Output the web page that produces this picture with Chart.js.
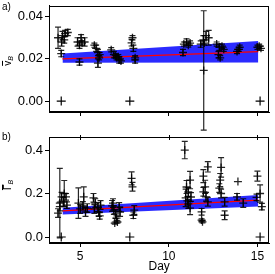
<!DOCTYPE html>
<html>
<head>
<meta charset="utf-8">
<script src="https://cdn.jsdelivr.net/npm/chart.js@4/dist/chart.umd.min.js"></script>
<style>
html, body { margin: 0; padding: 0; background: #fff; }
#wrap { position: relative; width: 275px; height: 274px; }
canvas { position: absolute; left: 0; top: 0; }
</style>
</head>
<body>
<div id="wrap">
  <canvas id="chartA" width="275" height="274"></canvas>
  <canvas id="chartB" width="275" height="274"></canvas>
</div>
<script>
// ticks
const xTicks = [5, 10, 15];
const vTicks = [0, 0.02, 0.04];
const gTicks = [0, 0.2, 0.4];

// panel a) : day, mean value, error
const vDay = [3.75, 4.0, 4.15, 4.3, 3.95, 4.1, 3.93,
  4.85, 5.05, 5.25, 4.96, 5.1, 4.96,
  5.8, 5.9, 6.0, 6.07, 6.0, 6.1,
  6.75, 6.9, 7.05, 7.2, 7.0, 7.15, 7.3,
  7.9, 8.0, 7.95, 8.1, 8.1,
  10.85, 11.0, 11.1, 11.2, 10.8,
  11.8, 11.95, 12.1, 12.25, 12.0, 11.97,
  12.7, 12.85, 13.0, 13.1, 12.8, 12.9,
  13.85, 14.0, 13.95,
  15.0, 15.1, 15.2];
const vVal = [0.030, 0.031, 0.032, 0.0325, 0.028, 0.029, 0.0225,
  0.028, 0.030, 0.028, 0.0265, 0.0275, 0.0185,
  0.0265, 0.025, 0.023, 0.0205, 0.018, 0.022,
  0.0243, 0.022, 0.0205, 0.0195, 0.0215, 0.021, 0.019,
  0.0276, 0.025, 0.030, 0.0195, 0.0205,
  0.027, 0.028, 0.0265, 0.0275, 0.023,
  0.027, 0.029, 0.031, 0.030, 0.0275, 0.0145,
  0.027, 0.0255, 0.026, 0.0245, 0.022, 0.0205,
  0.0235, 0.0255, 0.0245,
  0.0255, 0.026, 0.025];
const vErr = [0.005, 0.002, 0.0015, 0.0015, 0.002, 0.0015, 0.0015,
  0.002, 0.0015, 0.002, 0.0015, 0.001, 0.0015,
  0.001, 0.0015, 0.0015, 0.001, 0.002, 0.001,
  0.001, 0.0015, 0.001, 0.0015, 0.001, 0.001, 0.001,
  0.0015, 0.0015, 0.001, 0.0015, 0.001,
  0.001, 0.0015, 0.001, 0.001, 0.0015,
  0.0015, 0.002, 0.002, 0.0035, 0.001, 0.0283,
  0.001, 0.0015, 0.001, 0.001, 0.0015, 0.001,
  0.001, 0.001, 0.001,
  0.001, 0.001, 0.001];

// panel b)
const gDay = [3.85, 4.1, 3.95, 4.05, 3.85, 3.75, 4.2, 4.25,
  4.9, 5.2, 5.0, 5.3, 5.15, 5.4,
  5.75, 5.85, 6.0, 6.05, 6.1, 5.8, 6.15,
  6.8, 6.9, 7.0, 7.2, 7.25, 6.85, 6.95, 7.1, 7.05,
  7.9, 7.95, 8.05, 8.0,
  10.9, 11.2, 11.0, 11.1, 10.95, 11.1, 11.2, 11.05, 11.25,
  12.2, 11.95, 12.05, 11.95, 12.1, 12.2, 11.85, 11.85, 11.9,
  12.95, 12.9, 12.85, 12.95, 13.15, 13.15,
  13.9, 13.85, 14.2,
  15.0, 15.15, 14.95, 15.25];
const gVal = [0.156, 0.20, 0.185, 0.162, 0.14, 0.11, 0.185, 0.147,
  0.156, 0.185, 0.129, 0.115, 0.143, 0.133,
  0.18, 0.156, 0.138, 0.115, 0.097, 0.129, 0.147,
  0.143, 0.124, 0.106, 0.138, 0.115, 0.156, 0.064, 0.069, 0.087,
  0.27, 0.231, 0.124, 0.10,
  0.40, 0.262, 0.23, 0.207, 0.18, 0.152, 0.133, 0.166, 0.184,
  0.323, 0.28, 0.231, 0.208, 0.185, 0.162, 0.116, 0.078, 0.07,
  0.32, 0.262, 0.225, 0.20, 0.162, 0.10,
  0.255, 0.185, 0.156,
  0.28, 0.20, 0.182, 0.14];
const gErr = [0.16, 0.06, 0.02, 0.02, 0.02, 0.02, 0.015, 0.015,
  0.07, 0.046, 0.02, 0.02, 0.02, 0.02,
  0.02, 0.02, 0.02, 0.02, 0.015, 0.02, 0.02,
  0.025, 0.02, 0.02, 0.02, 0.02, 0.02, 0.005, 0.005, 0.01,
  0.03, 0.02, 0.02, 0.015,
  0.04, 0.04, 0.03, 0.02, 0.04, 0.02, 0.03, 0.02, 0.02,
  0.024, 0.03, 0.03, 0.02, 0.02, 0.02, 0.015, 0.005, 0.005,
  0.045, 0.03, 0.02, 0.02, 0.02, 0.02,
  0, 0.015, 0.02,
  0.023, 0.04, 0.015, 0.015];

// days with zero readings
const zeroDays = [3.93, 7.8, 15.15];

// linear fit with its spread
const fitDays = [4.0, 15.05];
const vFit = [0.0200, 0.0234];
const vLow = [0.0182, 0.0183];
const vHigh = [0.0225, 0.0285];
const gFit = [0.120, 0.170];
const gLow = [0.103, 0.140];
const gHigh = [0.135, 0.193];

const FONT = "'Liberation Sans', Arial, sans-serif";
const INK = 'rgba(0,0,0,0.85)';
const pts = (xs, ys) => xs.map((x, i) => ({ x: x, y: ys[i] }));

// error bars with caps, not clipped to the plot area
const errBars = {
    id: 'errBars',
    afterDatasetsDraw(chart) {
        const c = chart.ctx;
        const ys = chart.scales.y;
        c.save();
        c.strokeStyle = INK;
        c.lineWidth = 1.2;
        chart.data.datasets.forEach((ds, i) => {
            if (!ds.errors) return;
            const meta = chart.getDatasetMeta(i);
            meta.data.forEach((el, j) => {
                const e = ds.errors[j];
                if (!e) return;
                const v = ds.data[j].y;
                const x = el.x;
                const y1 = ys.getPixelForValue(v + e);
                const y2 = ys.getPixelForValue(v - e);
                c.beginPath();
                c.moveTo(x, y1); c.lineTo(x, y2);
                c.moveTo(x - 3, y1); c.lineTo(x + 3, y1);
                c.moveTo(x - 3, y2); c.lineTo(x + 3, y2);
                c.stroke();
            });
        });
        c.restore();
    }
};

// frame, panel letter, y title with overline and subscript
const decor = {
    id: 'decor',
    afterDraw(chart, args, o) {
        const c = chart.ctx;
        const a = chart.chartArea;
        c.save();
        c.strokeStyle = '#000';
        c.lineWidth = 1;
        c.strokeRect(Math.round(a.left) + 0.5, Math.round(a.top) + 0.5,
            Math.round(a.right - a.left) - 1, Math.round(a.bottom - a.top) - 1);
        if (o.topTicks) {
            c.beginPath();
            xTicks.forEach(t => {
                const x = Math.round(chart.scales.x.getPixelForValue(t)) + 0.5;
                c.moveTo(x, a.top - 2); c.lineTo(x, a.top + 3);
            });
            c.stroke();
        }
        c.fillStyle = '#000';
        c.font = '10px ' + FONT;
        c.textBaseline = 'alphabetic';
        c.fillText(o.letter, 2, o.letterY);

        c.translate(o.titleX, o.titleY);
        c.rotate(-Math.PI / 2);
        c.font = '10px ' + FONT;
        const mw = c.measureText(o.main).width;
        c.font = 'italic 7px ' + FONT;
        const sw = c.measureText(o.sub).width;
        const x0 = -(mw + sw) / 2;
        c.font = '10px ' + FONT;
        c.fillText(o.main, x0, 3);
        c.font = 'italic 7px ' + FONT;
        c.fillText(o.sub, x0 + mw, 5);
        c.beginPath();
        c.moveTo(x0, -5.5); c.lineTo(x0 + mw, -5.5);
        c.stroke();
        c.restore();
    }
};

function panel(id, p) {
    return new Chart(document.getElementById(id), {
        type: 'line',
        data: {
            datasets: [
                {
                    data: pts(p.day, p.val), errors: p.err, showLine: false,
                    pointStyle: 'cross', pointRadius: 4, borderColor: INK,
                    borderWidth: 1.3, order: 0
                },
                {
                    data: pts(zeroDays, zeroDays.map(() => 0)), showLine: false,
                    pointStyle: 'cross', pointRadius: 4.5, borderColor: '#000',
                    borderWidth: 1.2, order: 0
                },
                {
                    data: pts(fitDays, p.fit), borderColor: '#ff0000', borderWidth: 1.2,
                    pointRadius: 0, order: 1
                },
                {
                    data: pts(fitDays, p.low), borderColor: 'rgba(0,0,0,0)', borderWidth: 0,
                    pointRadius: 0, fill: false, order: 2
                },
                {
                    data: pts(fitDays, p.high), borderColor: 'rgba(0,0,0,0)', borderWidth: 0,
                    pointRadius: 0, fill: '-1', backgroundColor: 'rgba(20,20,255,0.9)', order: 2
                }
            ]
        },
        options: {
            responsive: false,
            animation: false,
            events: [],
            layout: { padding: p.pad },
            plugins: {
                legend: { display: false },
                tooltip: { enabled: false },
                decor: p.decor
            },
            scales: {
                x: {
                    type: 'linear', min: 3.24, max: 15.67,
                    afterBuildTicks: s => { s.ticks = xTicks.map(v => ({ value: v })); },
                    afterFit: s => { s.height = p.xh; s.paddingLeft = 0; s.paddingRight = 0; },
                    grid: { drawOnChartArea: false, tickLength: 4, color: '#000' },
                    border: { color: '#000' },
                    ticks: { display: p.showX, padding: 2, color: '#000', font: { family: FONT, size: 12 } },
                    title: {
                        display: p.showX, text: 'Day', color: '#000',
                        padding: { top: 0, bottom: 0 }, font: { family: FONT, size: 12 }
                    }
                },
                y: {
                    min: p.ymin, max: p.ymax,
                    afterBuildTicks: s => { s.ticks = p.ticks.map(v => ({ value: v })); },
                    afterFit: s => { s.width = 49; s.paddingTop = 0; s.paddingBottom = 0; },
                    grid: { drawOnChartArea: false, tickLength: 4, color: '#000' },
                    border: { color: '#000' },
                    ticks: {
                        padding: 2, color: '#000', font: { family: FONT, size: 13 },
                        callback: v => v.toFixed(p.dec)
                    }
                }
            }
        },
        plugins: [errBars, decor]
    });
}

panel('chartA', {
    day: vDay, val: vVal, err: vErr, fit: vFit, low: vLow, high: vHigh,
    ticks: vTicks, dec: 2, ymin: -0.0052, ymax: 0.0452,
    pad: { top: 5, right: 2, bottom: 157, left: 0 }, xh: 5, showX: false,
    decor: { letter: 'a)', letterY: 10, titleX: 8, titleY: 61, main: 'v', sub: 'B', topTicks: false }
});

panel('chartB', {
    day: gDay, val: gVal, err: gErr, fit: gFit, low: gLow, high: gHigh,
    ticks: gTicks, dec: 1, ymin: -0.0276, ymax: 0.46,
    pad: { top: 137, right: 2, bottom: 0, left: 0 }, xh: 31, showX: true,
    decor: { letter: 'b)', letterY: 140, titleX: 8, titleY: 185, main: 'Γ', sub: 'B', topTicks: true }
});
</script>
</body>
</html>
